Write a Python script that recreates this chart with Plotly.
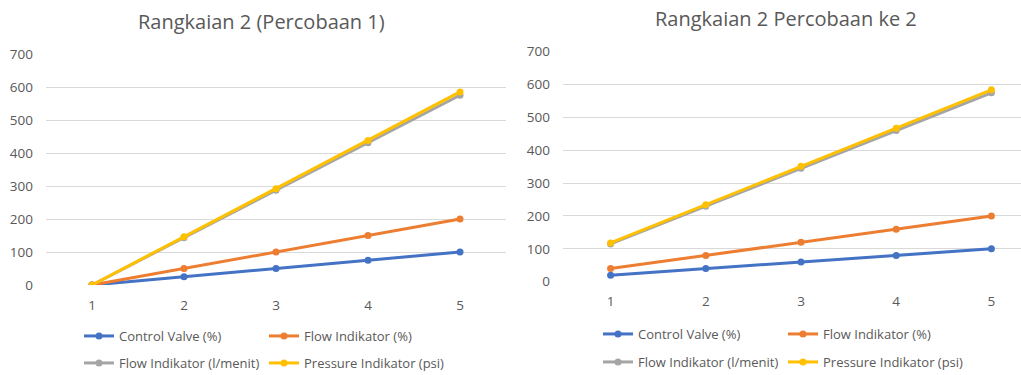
import plotly.graph_objects as go

categories = [1, 2, 3, 4, 5]
series_names = ["Control Valve (%)", "Flow Indikator (%)", "Flow Indikator (l/menit)", "Pressure Indikator (psi)"]
colors = ["#4472C4", "#ED7D31", "#A5A5A5", "#FFC000"]

# Rangkaian 2 (Percobaan 1)
p1_control_valve = [0, 25, 50, 75, 100]
p1_flow_pct = [0, 50, 100, 150, 200]
p1_flow_lpm = [0, 143, 287, 431, 575]
p1_pressure = [0, 146, 292, 438, 585]

# Rangkaian 2 Percobaan ke 2
p2_control_valve = [20, 40, 60, 80, 100]
p2_flow_pct = [40, 80, 120, 160, 200]
p2_flow_lpm = [115, 230, 345, 460, 575]
p2_pressure = [118, 234, 351, 467, 584]

title1 = "Rangkaian 2 (Percobaan 1)"
title2 = "Rangkaian 2 Percobaan ke 2"
y_ticks = [0, 100, 200, 300, 400, 500, 600, 700]

W, H = 1021, 375
FONT = "Open Sans"
TXT = "#595959"
GRID = "#D9D9D9"

fig = go.Figure()

sets = [
    ([p1_control_valve, p1_flow_pct, p1_flow_lpm, p1_pressure], "x", "y", ["legend", "legend", "legend2", "legend2"]),
    ([p2_control_valve, p2_flow_pct, p2_flow_lpm, p2_pressure], "x2", "y2", ["legend3", "legend3", "legend4", "legend4"]),
]
for data, xa, ya, legs in sets:
    for name, vals, col, lg in zip(series_names, data, colors, legs):
        fig.add_trace(go.Scatter(
            x=categories, y=vals, name=name, mode="lines+markers",
            line=dict(color=col, width=3),
            marker=dict(color=col, size=7),
            xaxis=xa, yaxis=ya, legend=lg, showlegend=True,
        ))

def px_x(p):
    return p / W

def px_y(p):
    return (H - p) / H

axis_common = dict(showline=False, zeroline=False, automargin=False,
                   tickfont=dict(family=FONT, size=13.5, color=TXT))

fig.update_layout(
    width=W, height=H,
    margin=dict(l=0, r=0, t=0, b=0, autoexpand=False),
    paper_bgcolor="white", plot_bgcolor="white",
    font=dict(family=FONT, color=TXT),
    xaxis=dict(domain=[px_x(46), px_x(506)], range=[0.5, 5.5], tickvals=categories,
               showgrid=False, ticks="", anchor="y", ticklabelstandoff=10, **axis_common),
    yaxis=dict(domain=[px_y(285), px_y(54)], range=[0, 700], tickvals=y_ticks,
               showgrid=True, gridcolor=GRID, gridwidth=1, anchor="x", ticklabelstandoff=12, **axis_common),
    xaxis2=dict(domain=[px_x(563), 1.0], range=[0.5, 0.5 + (W - 563) / 95.2], tickvals=categories,
                showgrid=False, ticks="", anchor="y2", ticklabelstandoff=10, **axis_common),
    yaxis2=dict(domain=[px_y(281.7), px_y(51.7)], range=[0, 700], tickvals=y_ticks,
                showgrid=True, gridcolor=GRID, gridwidth=1, anchor="x2", ticklabelstandoff=12, **axis_common),
    annotations=[
        dict(text=title1, x=px_x(261), y=px_y(21.5), xref="paper", yref="paper",
             xanchor="center", yanchor="middle", showarrow=False,
             font=dict(family=FONT, size=20, color=TXT)),
        dict(text=title2, x=px_x(786), y=px_y(18.5), xref="paper", yref="paper",
             xanchor="center", yanchor="middle", showarrow=False,
             font=dict(family=FONT, size=20, color=TXT)),
    ],
)

leg_common = dict(orientation="h", xanchor="left", yanchor="middle", entrywidth=140,
                  font=dict(family=FONT, size=13, color=TXT), bgcolor="rgba(0,0,0,0)",
                  itemwidth=30, tracegroupgap=0)
fig.update_layout(
    legend=dict(x=px_x(79), y=px_y(336), **leg_common),
    legend2=dict(x=px_x(79), y=px_y(363), **leg_common),
    legend3=dict(x=px_x(598), y=px_y(334), **leg_common),
    legend4=dict(x=px_x(598), y=px_y(362), **leg_common),
)

# remove the default page margin so the figure fills the browser window exactly
fig.write_html("out.html", config={"displayModeBar": False},
               post_script="document.body.style.margin='0';")
